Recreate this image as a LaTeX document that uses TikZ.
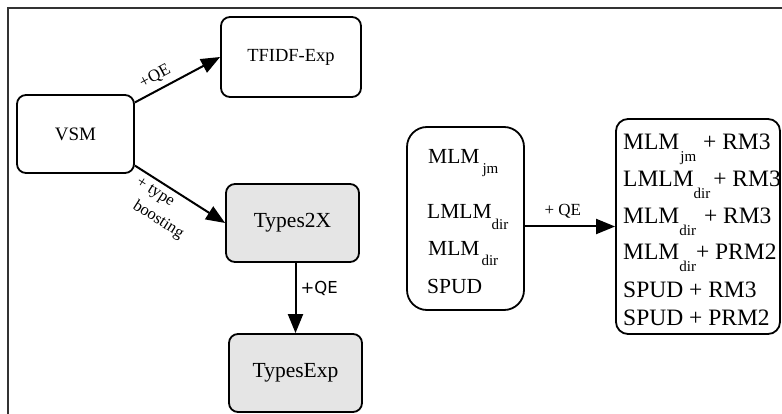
\documentclass[tikz,border=0pt]{standalone}
\usepackage{fontspec}
\setmainfont{Liberation Serif}
\newfontfamily\dejavu{DejaVu Sans}
\usetikzlibrary{arrows.meta}
\newcommand\fs[1]{\fontsize{#1}{#1}\selectfont}
\newcommand\lowsub[2][12pt]{\raisebox{-#1}{\fs{15}#2}}
\begin{document}
\begin{tikzpicture}[x=1pt,y=-1pt,
  box/.style={draw, line width=1.8pt, rounded corners=9pt, inner sep=0pt, align=center},
  grayfill/.style={fill=black!10},
  conn/.style={line width=2pt, -{Triangle[length=19pt,width=15pt]}},
  lbl/.style={font=\fs{17}, inner sep=1pt},
  rowl/.style={anchor=base west, inner sep=0pt, font=\fs{21.5}},
  rowr/.style={anchor=base west, inner sep=0pt, font=\fs{23.5}},
]
\useasboundingbox (0,0) rectangle (782,414);
\draw[line width=1.5pt, black!80] (8,414) -- (8,8) -- (782,8);

\node[box, minimum width=117pt, minimum height=78pt, font=\fs{19}] (vsm) at (75.5,134) {VSM};
\node[box, minimum width=140pt, minimum height=80pt, font=\fs{18.5}] (tfidf) at (291,57) {TFIDF-Exp};
\node[box, grayfill, minimum width=133pt, minimum height=78pt, font=\fs{21.5}] (t2x) at (292.5,223) {Types2X};
\node[box, grayfill, minimum width=133pt, minimum height=78pt, font=\fs{21.5}] (texp) at (295.5,373) {TypesExp};
\node[box, rounded corners=20pt, minimum width=117pt, minimum height=183pt] (lbox) at (465.5,218.5) {};
\node[box, rounded corners=12pt, minimum width=164pt, minimum height=215pt] (rbox) at (698,226.5) {};

\node[rowl] (l1) at (428,164) {MLM\hspace{3pt}\lowsub[10pt]{jm}};
\node[rowl] (l2) at (427,219) {LMLM\lowsub[10pt]{dir}};
\node[rowl] (l3) at (428,255) {MLM\hspace{2pt}\lowsub[10pt]{dir}};
\node[rowl] (l4) at (427,294) {SPUD};

\node[rowr] (r1) at (623,150) {MLM\hspace{1pt}\lowsub{jm}\hspace{7pt}+ RM3};
\node[rowr] (r2) at (623,187) {LMLM\lowsub{dir}\hspace{3pt}+ RM3};
\node[rowr] (r3) at (623,224) {MLM\lowsub{dir}\hspace{8pt}+ RM3};
\node[rowr] (r4) at (623,260) {MLM\lowsub{dir}+ PRM2};
\node[rowr] (r5) at (623,297) {SPUD + RM3};
\node[rowr] (r6) at (623,325) {SPUD + PRM2};

\draw[conn] (vsm.28) -- (tfidf.west) node[lbl, pos=.31, sloped, above=4pt] {+QE};
\draw[conn] (vsm.-28) -- (t2x.west) node[lbl, font=\fontsize{16.5}{22}\selectfont, pos=.41, sloped, below=4pt, align=left] {+ type\\\hspace{10pt}boosting};
\draw[conn] (texp.north |- t2x.south) -- (texp.north) node[pos=.37, right=3pt, inner sep=1pt, font=\dejavu\fs{16.5}] {+QE};
\draw[conn] (lbox.east |- rbox.west) -- (rbox.west) node[lbl, pos=.42, above=6pt] {+ QE};
\end{tikzpicture}
\end{document}
